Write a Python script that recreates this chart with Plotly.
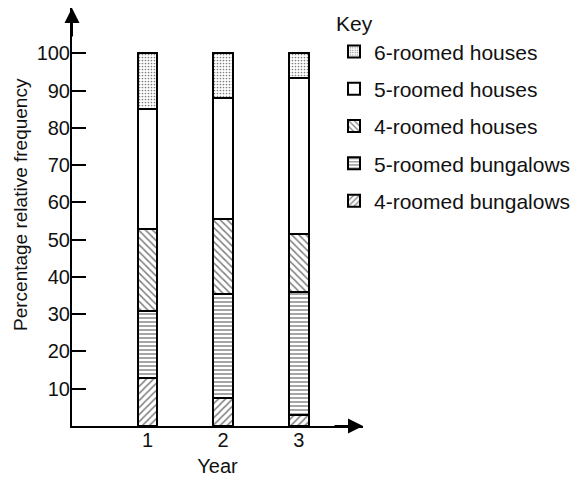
import plotly.graph_objects as go

years = [1, 2, 3]
year_labels = ["1", "2", "3"]
series_names = ["4-roomed bungalows", "5-roomed bungalows", "4-roomed houses",
                "5-roomed houses", "6-roomed houses"]
bungalows_4 = [13, 7.5, 3]
bungalows_5 = [18, 28, 33]
houses_4 = [22, 20, 15.5]
houses_5 = [32, 32.5, 42]
houses_6 = [15, 12, 6.5]
y_ticks = [10, 20, 30, 40, 50, 60, 70, 80, 90, 100]

values = [bungalows_4, bungalows_5, houses_4, houses_5, houses_6]
patterns = [
    dict(shape="/", size=5, solidity=0.3, fgcolor="black", bgcolor="white"),
    dict(shape="-", size=4, solidity=0.35, fgcolor="black", bgcolor="white"),
    dict(shape="\\", size=5, solidity=0.3, fgcolor="black", bgcolor="white"),
    dict(shape="", fgcolor="black", bgcolor="white"),
    dict(shape=".", size=3, solidity=0.25, fgcolor="black", bgcolor="white"),
]

FONT = "Liberation Sans, Arial, Helvetica, sans-serif"

fig = go.Figure()
n = len(series_names)
for i, (name, vals, pat) in enumerate(zip(series_names, values, patterns)):
    fig.add_trace(go.Bar(
        x=years, y=vals, name=name, width=0.26,
        legendgroup=name, legendrank=n - i,
        marker=dict(color="white", line=dict(color="black", width=2), pattern=pat),
    ))

fig.update_layout(
    width=577, height=479,
    barmode="stack",
    paper_bgcolor="white", plot_bgcolor="white",
    margin=dict(l=72, r=214, t=8, b=53, autoexpand=False),
    font=dict(family=FONT, size=20, color="#111"),
    showlegend=True,
    legend=dict(
        title=dict(text="Key", font=dict(size=21)),
        traceorder="grouped",
        tracegroupgap=7,
        xref="paper", yref="paper",
        x=(334 - 72) / 291, y=1 + 4 / 418, xanchor="left", yanchor="top",
        font=dict(size=21), bgcolor="rgba(0,0,0,0)",
    ),
    xaxis=dict(
        range=[0, 3.85], tickvals=years, ticktext=year_labels,
        tickfont=dict(size=20), ticklabelstandoff=-5,
        showline=True, linecolor="black", linewidth=2,
        ticks="", showgrid=False, zeroline=False,
        title=dict(text="Year", standoff=9, font=dict(size=20)),
    ),
    yaxis=dict(
        range=[0, 112.2], tickvals=y_ticks,
        tickfont=dict(size=20), ticklabelstandoff=-4,
        showline=True, linecolor="black", linewidth=2,
        ticks="inside", ticklen=14, tickwidth=2, tickcolor="black",
        showgrid=False, zeroline=False,
    ),
    annotations=[
        dict(x=(21 - 72) / 291, y=(426 - 205) / 418, xref="paper", yref="paper",
             text="Percentage relative frequency", textangle=-90, showarrow=False,
             font=dict(size=19), xanchor="center", yanchor="middle"),
        dict(x=0, y=112.2, xref="x", yref="y", ax=0, ay=30, text="",
             showarrow=True, arrowhead=2, arrowsize=1.5, arrowwidth=2, arrowcolor="black"),
        dict(x=3.85, y=0, xref="x", yref="y", ax=-30, ay=0, text="",
             showarrow=True, arrowhead=2, arrowsize=1.5, arrowwidth=2, arrowcolor="black"),
    ],
)

fig.write_html("out.html", config={"displayModeBar": False},
               post_script="document.body.style.margin='0';")
